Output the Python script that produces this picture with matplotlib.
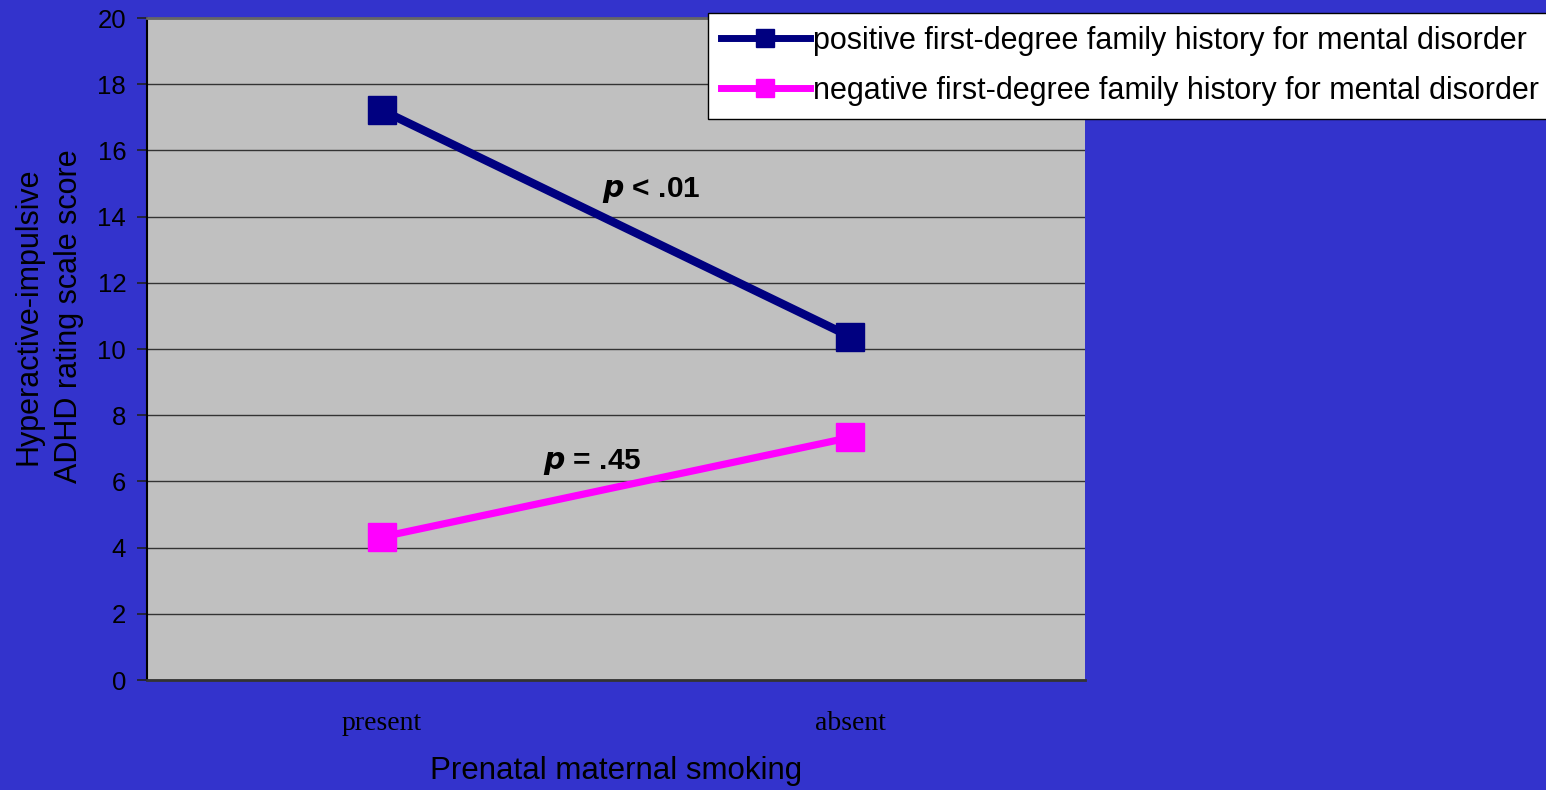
import matplotlib
matplotlib.use("Agg")
import matplotlib.pyplot as plt
from matplotlib.lines import Line2D

# Data
categories = ["present", "absent"]
positive_history = [17.22, 10.37]
negative_history = [4.32, 7.33]
series_labels = [
    "positive first-degree family history for mental disorder",
    "negative first-degree family history for mental disorder",
]
y_ticks = [0, 2, 4, 6, 8, 10, 12, 14, 16, 18, 20]

BG = "#3333CC"
PLOT_BG = "#C0C0C0"
NAVY = "#000080"
MAGENTA = "#FF00FF"

plt.rcParams["font.family"] = ["Liberation Sans", "DejaVu Sans"]

fig = plt.figure(figsize=(15.46, 7.90), dpi=100, facecolor=BG)
ax = fig.add_axes([0.0951, 0.1392, 0.6067, 0.8380])
ax.set_facecolor(PLOT_BG)

x = list(range(len(categories)))
ax.plot(x, positive_history, color=NAVY, lw=6, marker="s", ms=20,
        solid_capstyle="butt", zorder=3)
ax.plot(x, negative_history, color=MAGENTA, lw=5.2, marker="s", ms=20,
        solid_capstyle="butt", zorder=3)

ax.set_xlim(-0.5, 1.5)
ax.set_ylim(0, 20)
ax.set_yticks(y_ticks)
ax.set_yticklabels([str(v) for v in y_ticks], fontsize=18.5)
ax.set_xticks(x)
ax.set_xticklabels(categories, family="Liberation Serif", fontsize=20)
ax.tick_params(axis="x", length=0, pad=22)
ax.tick_params(axis="y", length=7, width=1.2, color="#222222", pad=8)

ax.grid(axis="y", color="#333333", lw=1.0)
ax.set_axisbelow(True)
ax.spines["right"].set_visible(False)
ax.spines["top"].set_color("#666666")
ax.spines["top"].set_linewidth(2)
ax.spines["left"].set_color("black")
ax.spines["left"].set_linewidth(1.5)
ax.spines["bottom"].set_color("#333333")
ax.spines["bottom"].set_linewidth(2)

ax.set_xlabel("Prenatal maternal smoking", fontsize=22.5, va="center")
ax.xaxis.set_label_coords(0.5, -0.137)
ax.set_ylabel("Hyperactive-impulsive\nADHD rating scale score", fontsize=22,
              linespacing=1.45, va="center")
ax.yaxis.set_label_coords(-0.1045, 0.55)

ax.text(0.575, 14.8, r"$\bfit{p}$ < .01", fontsize=21.5, fontweight="bold",
        ha="center", va="center")
ax.text(0.449, 6.59, r"$\bfit{p}$ = .45", fontsize=21.5, fontweight="bold",
        ha="center", va="center")

handles = [
    Line2D([], [], color=NAVY, lw=5, marker="s", ms=13),
    Line2D([], [], color=MAGENTA, lw=5, marker="s", ms=13),
]
leg = fig.legend(handles, series_labels, loc="upper left",
                 bbox_to_anchor=(0.458, 0.9835), fontsize=22,
                 frameon=True, fancybox=False, handlelength=2.9,
                 handletextpad=0.12, borderpad=0.42, labelspacing=0.66,
                 borderaxespad=0)
leg.get_frame().set_edgecolor("black")
leg.get_frame().set_linewidth(1.0)
leg.get_frame().set_facecolor("white")
leg.get_frame().set_alpha(1)

fig.savefig("out.png", dpi=100, facecolor=BG)
